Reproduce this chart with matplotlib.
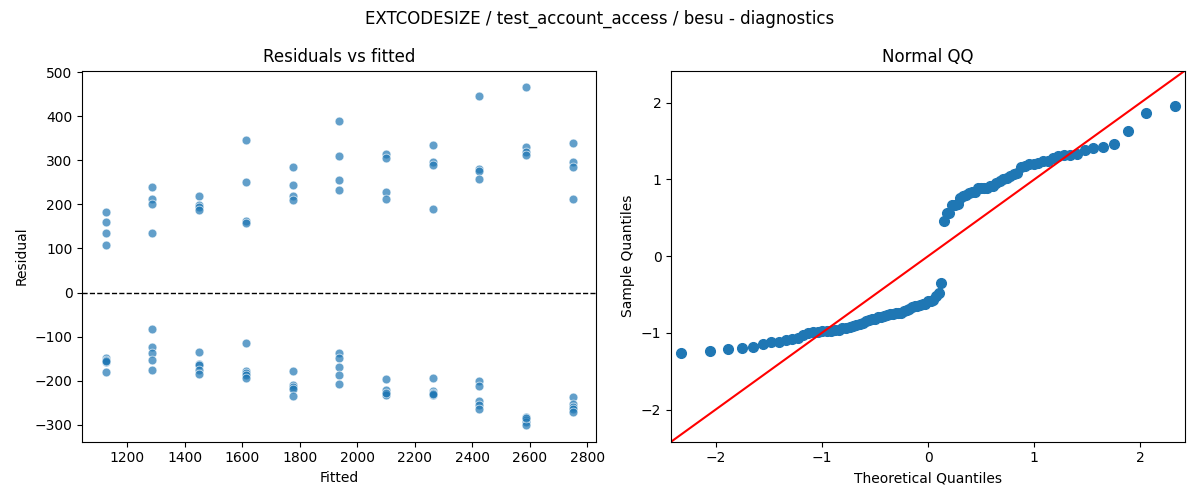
import numpy as np
import matplotlib.pyplot as plt
from statistics import NormalDist

# 拟合值（每组一个）
fitted_levels = [1125, 1287, 1450, 1612, 1775, 1937, 2100, 2262, 2425, 2587, 2750]

# 每组的残差
residual_groups = [
    [182, 160, 135, 108, -148, -153, -158, -180, -155],
    [240, 213, 200, 135, -82, -123, -137, -152, -175],
    [218, 198, 195, 187, -135, -162, -165, -175, -185],
    [347, 250, 163, 158, -115, -178, -183, -188, -193],
    [285, 243, 218, 210, -177, -210, -215, -218, -235],
    [388, 310, 255, 233, -137, -148, -168, -188, -208],
    [315, 305, 228, 212, -197, -222, -230, -233, -228],
    [335, 295, 290, 190, -193, -223, -228, -232, -230],
    [445, 280, 275, 257, -200, -212, -245, -255, -265],
    [465, 330, 318, 313, -282, -288, -293, -300, -285],
    [338, 295, 285, 213, -237, -252, -260, -265, -270],
]

# 展开成一维数组
fitted = np.concatenate([[f] * len(r) for f, r in zip(fitted_levels, residual_groups)])
resid = np.concatenate([np.array(r, dtype=float) for r in residual_groups])

# 标准化残差与理论分位数
z = np.sort((resid - resid.mean()) / resid.std(ddof=1))
n = len(z)
theo = np.array([NormalDist().inv_cdf(i / (n + 1)) for i in range(1, n + 1)])

fig, (ax1, ax2) = plt.subplots(1, 2, figsize=(12, 5))
fig.suptitle('EXTCODESIZE / test_account_access / besu - diagnostics')

# 残差图
ax1.scatter(fitted, resid, s=40, alpha=0.7, color='#1f77b4', edgecolor='white', linewidth=0.6)
ax1.axhline(0, color='black', linestyle='--', linewidth=1)
ax1.set_title('Residuals vs fitted')
ax1.set_xlabel('Fitted')
ax1.set_ylabel('Residual')

# QQ 图
ax2.plot(theo, z, 'o', color='#1f77b4', markersize=7)
lim = 2.42
ax2.set_xlim(-lim, lim)
ax2.set_ylim(-lim, lim)
ax2.plot([-lim, lim], [-lim, lim], color='red')
ax2.set_title('Normal QQ')
ax2.set_xlabel('Theoretical Quantiles')
ax2.set_ylabel('Sample Quantiles')

fig.tight_layout()
fig.savefig('out.png', dpi=100)
